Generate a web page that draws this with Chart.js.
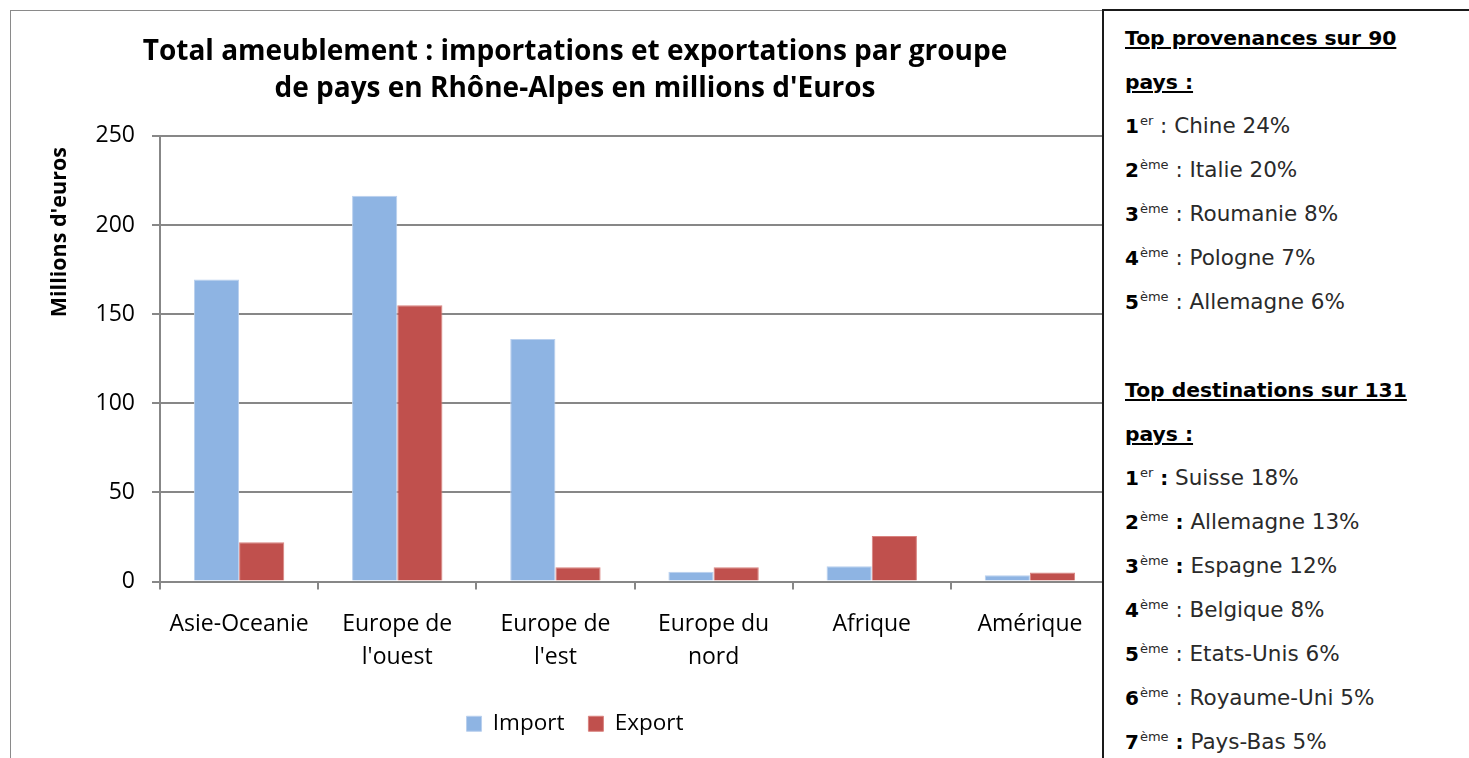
<!DOCTYPE html>
<html>
<head>
<meta charset="utf-8">
<script src="https://cdn.jsdelivr.net/npm/chart.js@4/dist/chart.umd.min.js"></script>
<style>
  body { margin: 0; background: #fff; width: 1469px; height: 758px; overflow: hidden; position: relative; }
  #frame { position: absolute; left: 10px; top: 10px; width: 1200px; height: 800px; border: 1px solid #8a8a8a; }
  #myChart { position: absolute; left: 11px; top: 11px; }
  #side { position: absolute; left: 1102px; top: 9px; width: 400px; height: 800px; background: #fff;
          border-left: 2px solid #1a1a1a; border-top: 2px solid #1a1a1a; padding: 5px 0 0 21px;
          font-family: "DejaVu Sans", sans-serif; font-size: 21.5px; line-height: 44px; color: #2a2a2a; }
  #side .hd { font-weight: bold; text-decoration: underline; color: #000; font-size: 20.3px; }
  #side b { color: #000; font-size: 20px; }
  #side sup { font-size: 13px; line-height: 0; vertical-align: 8px; margin-left: 1px; }
  #side .gap { height: 44px; }
</style>
</head>
<body>
<div id="frame"></div>
<canvas id="myChart" width="1098" height="747"></canvas>
<div id="side"></div>
<script>
const categories = [['Asie-Oceanie'], ['Europe de', "l'ouest"], ['Europe de', "l'est"], ['Europe du', 'nord'], ['Afrique'], ['Amérique']];
const importValues = [169.5, 216.5, 136, 5.5, 8.5, 3.5];
const exportValues = [22, 155, 8, 8, 25.5, 5];
const yTicks = [0, 50, 100, 150, 200, 250];

const provenancesTitle = ['Top provenances sur 90', 'pays :'];
const provenancesRank = ['1', '2', '3', '4', '5'];
const provenancesSup = ['er', 'ème', 'ème', 'ème', 'ème'];
const provenancesText = ['Chine 24%', 'Italie 20%', 'Roumanie 8%', 'Pologne 7%', 'Allemagne 6%'];

const destinationsTitle = ['Top destinations sur 131', 'pays :'];
const destinationsRank = ['1', '2', '3', '4', '5', '6', '7'];
const destinationsSup = ['er', 'ème', 'ème', 'ème', 'ème', 'ème', 'ème'];
const destinationsText = ['Suisse 18%', 'Allemagne 13%', 'Espagne 12%', 'Belgique 8%', 'Etats-Unis 6%', 'Royaume-Uni 5%', 'Pays-Bas 5%'];
const destinationsBoldColon = [true, true, true, false, false, false, true];

function sideList (title, ranks, sups, texts, boldColon) {
    let html = '';
    title.forEach(t => { html += '<div class="hd">' + t + '</div>'; });
    ranks.forEach((r, i) => {
        let colon = (boldColon && boldColon[i]) ? '<b> :</b> ' : ' : ';
        html += '<div><b>' + r + '</b><sup>' + sups[i] + '</sup>' + colon + texts[i] + '</div>';
    });
    return html;
}

document.getElementById('side').innerHTML =
    sideList(provenancesTitle, provenancesRank, provenancesSup, provenancesText) +
    '<div class="gap"></div>' +
    sideList(destinationsTitle, destinationsRank, destinationsSup, destinationsText, destinationsBoldColon);

const FONT = '"Open Sans", Lato, sans-serif';
const gridGray = '#878787';

const ctx = document.getElementById('myChart').getContext('2d');
const myChart = new Chart(ctx, {
    type: 'bar',
    data: {
        labels: categories,
        datasets: [{
            label: 'Import',
            data: importValues,
            backgroundColor: '#8eb4e3',
            borderColor: '#b9d0ee',
            borderWidth: 1,
            categoryPercentage: 2 / 3.5,
            barPercentage: 1
        }, {
            label: 'Export',
            data: exportValues,
            backgroundColor: '#c0504d',
            borderColor: '#d9827f',
            borderWidth: 1,
            categoryPercentage: 2 / 3.5,
            barPercentage: 1
        }]
    },
    options: {
        responsive: false,
        animation: false,
        layout: { padding: { left: 30, right: 0, top: 0, bottom: 13 } },
        plugins: {
            title: {
                display: true,
                text: ['Total ameublement : importations et exportations par groupe', "de pays en Rhône-Alpes en millions d'Euros"],
                color: '#000',
                font: { family: FONT, size: 28, weight: 'bold', lineHeight: 1.32 },
                padding: { top: 23, bottom: 28 }
            },
            legend: {
                position: 'bottom',
                labels: {
                    color: '#000',
                    font: { family: FONT, size: 22.5 },
                    boxWidth: 15,
                    boxHeight: 15,
                    padding: 24
                }
            },
            tooltip: { enabled: false }
        },
        scales: {
            x: {
                afterFit: function (scale) { scale.height = 107; },
                grid: { display: true, drawOnChartArea: false, drawTicks: true, tickLength: 8, color: gridGray, lineWidth: 2 },
                border: { display: true, color: gridGray, width: 2 },
                ticks: { color: '#000', font: { family: FONT, size: 23, lineHeight: 1.43 }, padding: 19, maxRotation: 0 }
            },
            y: {
                min: 0,
                max: 250,
                afterFit: function (scale) { scale.width = 119; },
                afterBuildTicks: function (scale) { scale.ticks = yTicks.map(v => ({ value: v })); },
                grid: { color: gridGray, lineWidth: 2, tickLength: 8 },
                border: { display: true, color: gridGray, width: 2 },
                ticks: { color: '#000', font: { family: FONT, size: 23 }, padding: 17 },
                title: {
                    display: true,
                    text: "Millions d'euros\u00a0\u00a0",
                    align: 'end',
                    color: '#000',
                    font: { family: FONT, size: 21.5, weight: 'bold', lineHeight: 1.2 },
                    padding: { top: 6, bottom: 0 }
                }
            }
        }
    }
});
</script>
</body>
</html>
